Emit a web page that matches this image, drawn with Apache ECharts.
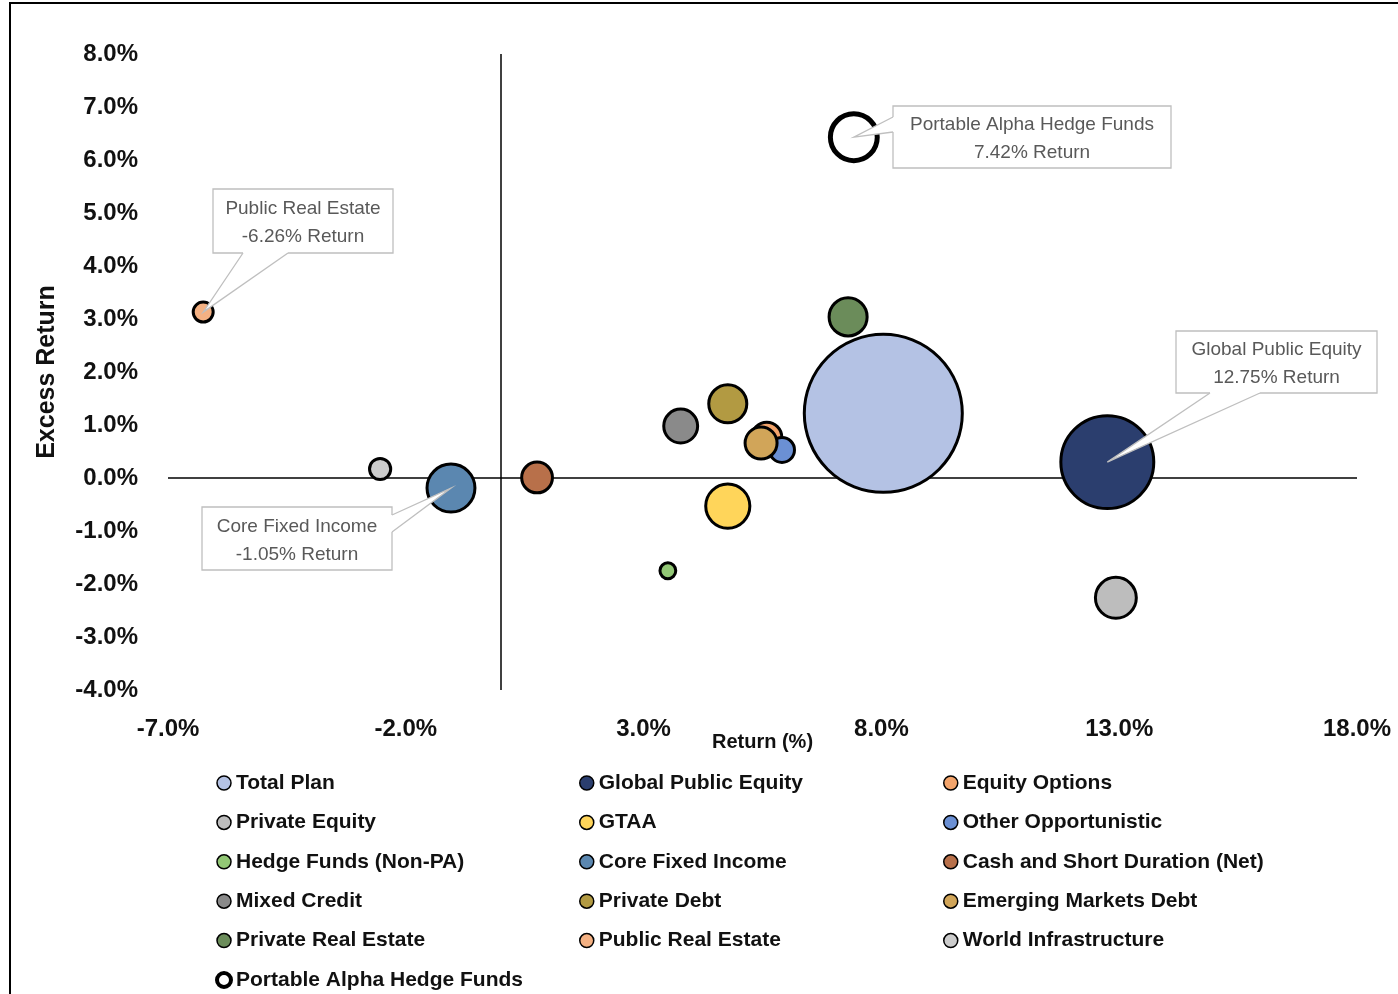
<!DOCTYPE html>
<html>
<head>
<meta charset="utf-8">
<script src="https://cdn.jsdelivr.net/npm/echarts@6/dist/echarts.min.js"></script>
<style>
html,body{margin:0;padding:0;background:#fff;}
#chart{width:1398px;height:994px;}
</style>
</head>
<body>
<div id="chart"></div>
<script>
// ---- data ----
const categories = ['Total Plan','Global Public Equity','Equity Options','Private Equity','GTAA','Other Opportunistic','Hedge Funds (Non-PA)','Core Fixed Income','Cash and Short Duration (Net)','Mixed Credit','Private Debt','Emerging Markets Debt','Private Real Estate','Public Real Estate','World Infrastructure','Portable Alpha Hedge Funds'];
const returns = [8.04, 12.75, 5.59, 12.93, 4.77, 5.91, 3.51, -1.05, 0.76, 3.78, 4.77, 5.47, 7.30, -6.26, -2.54, 7.42];
const excessReturns = [1.22, 0.30, 0.77, -2.26, -0.53, 0.53, -1.75, -0.19, 0.01, 0.98, 1.40, 0.66, 3.04, 3.13, 0.17, 6.43];
const allocations = [100, 34.6, 3.6, 6.7, 7.8, 2.5, 1.0, 9.2, 3.8, 4.6, 5.8, 4.1, 5.8, 1.6, 1.8, 8.8];
const xTickValues = [-7, -2, 3, 8, 13, 18];
const calloutCategories = ['Portable Alpha Hedge Funds','Public Real Estate','Core Fixed Income','Global Public Equity'];

// ---- styles ----
const colors = ['#b4c2e4','#2b3e6e','#f3a46b','#bdbdbd','#ffd55a','#6b90d4','#92c775','#5b87b0','#b8704a','#8a8a8a','#b29a42','#d1a559','#6b8c5a','#f4b183','#cccccc','#ffffff'];
const calloutLayout = {
  'Portable Alpha Hedge Funds': {x:893, y:106, w:278, h:62, side:'left',  b1:117, b2:132},
  'Public Real Estate':         {x:213, y:189, w:180, h:64, side:'bottom', b1:243, b2:288},
  'Core Fixed Income':          {x:202, y:507, w:190, h:63, side:'right', b1:515, b2:532},
  'Global Public Equity':       {x:1176, y:331, w:201, h:62, side:'bottom', b1:1210, b2:1260}
};
const sizeScale = 15.8;
const FONT = "'Liberation Sans', Arial, sans-serif";

const chart = echarts.init(document.getElementById('chart'));

const series = categories.map((name, i) => {
  const isPA = name === 'Portable Alpha Hedge Funds';
  return {
    name: name,
    type: 'scatter',
    z: 2,
    symbol: 'circle',
    symbolSize: d => sizeScale * Math.sqrt(d[2]),
    data: [[returns[i], excessReturns[i], allocations[i]]],
    itemStyle: {color: colors[i], borderColor: '#000', borderWidth: isPA ? 5 : 3, opacity: 1},
    emphasis: {disabled: true},
    animation: false
  };
});
series.push({
  name: '__zero',
  type: 'scatter',
  z: 1,
  data: [],
  silent: true,
  markLine: {
    z: 1,
    silent: true,
    symbol: ['none','none'],
    label: {show: false},
    lineStyle: {color: '#000', width: 1.5, type: 'solid'},
    data: [{xAxis: 0}, {yAxis: 0}],
    animation: false
  }
});

const legendText = {fontFamily: FONT, fontWeight: 'bold', fontSize: 21, color: '#111', lineHeight: 22};
function legendCol(idx, left) {
  return {
    orient: 'vertical', left: left, top: 772, padding: 0,
    itemWidth: 14, itemHeight: 14, itemGap: 17.4,
    icon: 'circle',
    selectedMode: false,
    itemStyle: {borderColor: '#000', borderWidth: 1.5},
    textStyle: legendText,
    data: idx.map(i => categories[i] === 'Portable Alpha Hedge Funds'
      ? {name: categories[i], itemStyle: {borderWidth: 4, borderColor: '#000'}}
      : {name: categories[i]})
  };
}

const option = {
  backgroundColor: '#fff',
  animation: false,
  grid: {left: 168, right: 41, top: 54, bottom: 304, containLabel: false},
  xAxis: {
    type: 'value', min: -7, max: 18,
    name: 'Return (%)', nameLocation: 'middle', nameGap: 42, nameMoveOverlap: false,
    nameTextStyle: {fontFamily: FONT, fontWeight: 'bold', fontSize: 20, color: '#111'},
    axisLine: {show: false}, axisTick: {show: false}, splitLine: {show: false},
    axisLabel: {
      customValues: xTickValues, margin: 27,
      formatter: v => v.toFixed(1) + '%',
      fontFamily: FONT, fontWeight: 'bold', fontSize: 24, color: '#111'
    }
  },
  yAxis: {
    type: 'value', min: -4, max: 8, interval: 1,
    name: 'Excess Return', nameLocation: 'middle', nameGap: 108, nameRotate: 90,
    nameTextStyle: {fontFamily: FONT, fontWeight: 'bold', fontSize: 25, color: '#111'},
    axisLine: {show: false}, axisTick: {show: false}, splitLine: {show: false},
    axisLabel: {
      margin: 30,
      formatter: v => v.toFixed(1) + '%',
      fontFamily: FONT, fontWeight: 'bold', fontSize: 24, color: '#111'
    }
  },
  legend: [
    legendCol([0,3,6,9,12,15], 215),
    legendCol([1,4,7,10,13], 579),
    legendCol([2,5,8,11,14], 943)
  ],
  series: series
};
chart.setOption(option);

// ---- callouts ----
const graphics = [{
  type: 'rect', z: 200, silent: true,
  shape: {x: 10, y: 3, width: 1400, height: 1010},
  style: {fill: 'none', stroke: '#000', lineWidth: 2}
}];
calloutCategories.forEach(name => {
  const i = categories.indexOf(name);
  const L = calloutLayout[name];
  const apex = chart.convertToPixel({gridIndex: 0}, [returns[i], excessReturns[i]]);
  let p1, p2, q1, q2;
  if (L.side === 'left') {
    p1 = [L.x, L.b1]; p2 = [L.x, L.b2]; q1 = [L.x + 2, L.b1]; q2 = [L.x + 2, L.b2];
  } else if (L.side === 'right') {
    p1 = [L.x + L.w, L.b1]; p2 = [L.x + L.w, L.b2]; q1 = [L.x + L.w - 2, L.b1]; q2 = [L.x + L.w - 2, L.b2];
  } else {
    p1 = [L.b1, L.y + L.h]; p2 = [L.b2, L.y + L.h]; q1 = [L.b1, L.y + L.h - 2]; q2 = [L.b2, L.y + L.h - 2];
  }
  graphics.push({
    type: 'rect', z: 100, silent: true,
    shape: {x: L.x, y: L.y, width: L.w, height: L.h},
    style: {fill: '#fff', stroke: '#bfbfbf', lineWidth: 1.3}
  });
  graphics.push({
    type: 'polygon', z: 101, silent: true,
    shape: {points: [apex, p1, q1, q2, p2]},
    style: {fill: '#fff', stroke: 'none'}
  });
  graphics.push({
    type: 'polyline', z: 102, silent: true,
    shape: {points: [p1, apex, p2]},
    style: {stroke: '#bfbfbf', lineWidth: 1.3, fill: 'none'}
  });
  graphics.push({
    type: 'text', z: 103, silent: true,
    style: {
      text: name + '\n' + returns[i].toFixed(2) + '% Return',
      x: L.x + L.w / 2, y: L.y + L.h / 2 + 2,
      align: 'center', verticalAlign: 'middle',
      fontFamily: FONT, fontSize: 19, lineHeight: 28, fill: '#595959'
    }
  });
});
chart.setOption({graphic: graphics});
</script>
</body>
</html>
